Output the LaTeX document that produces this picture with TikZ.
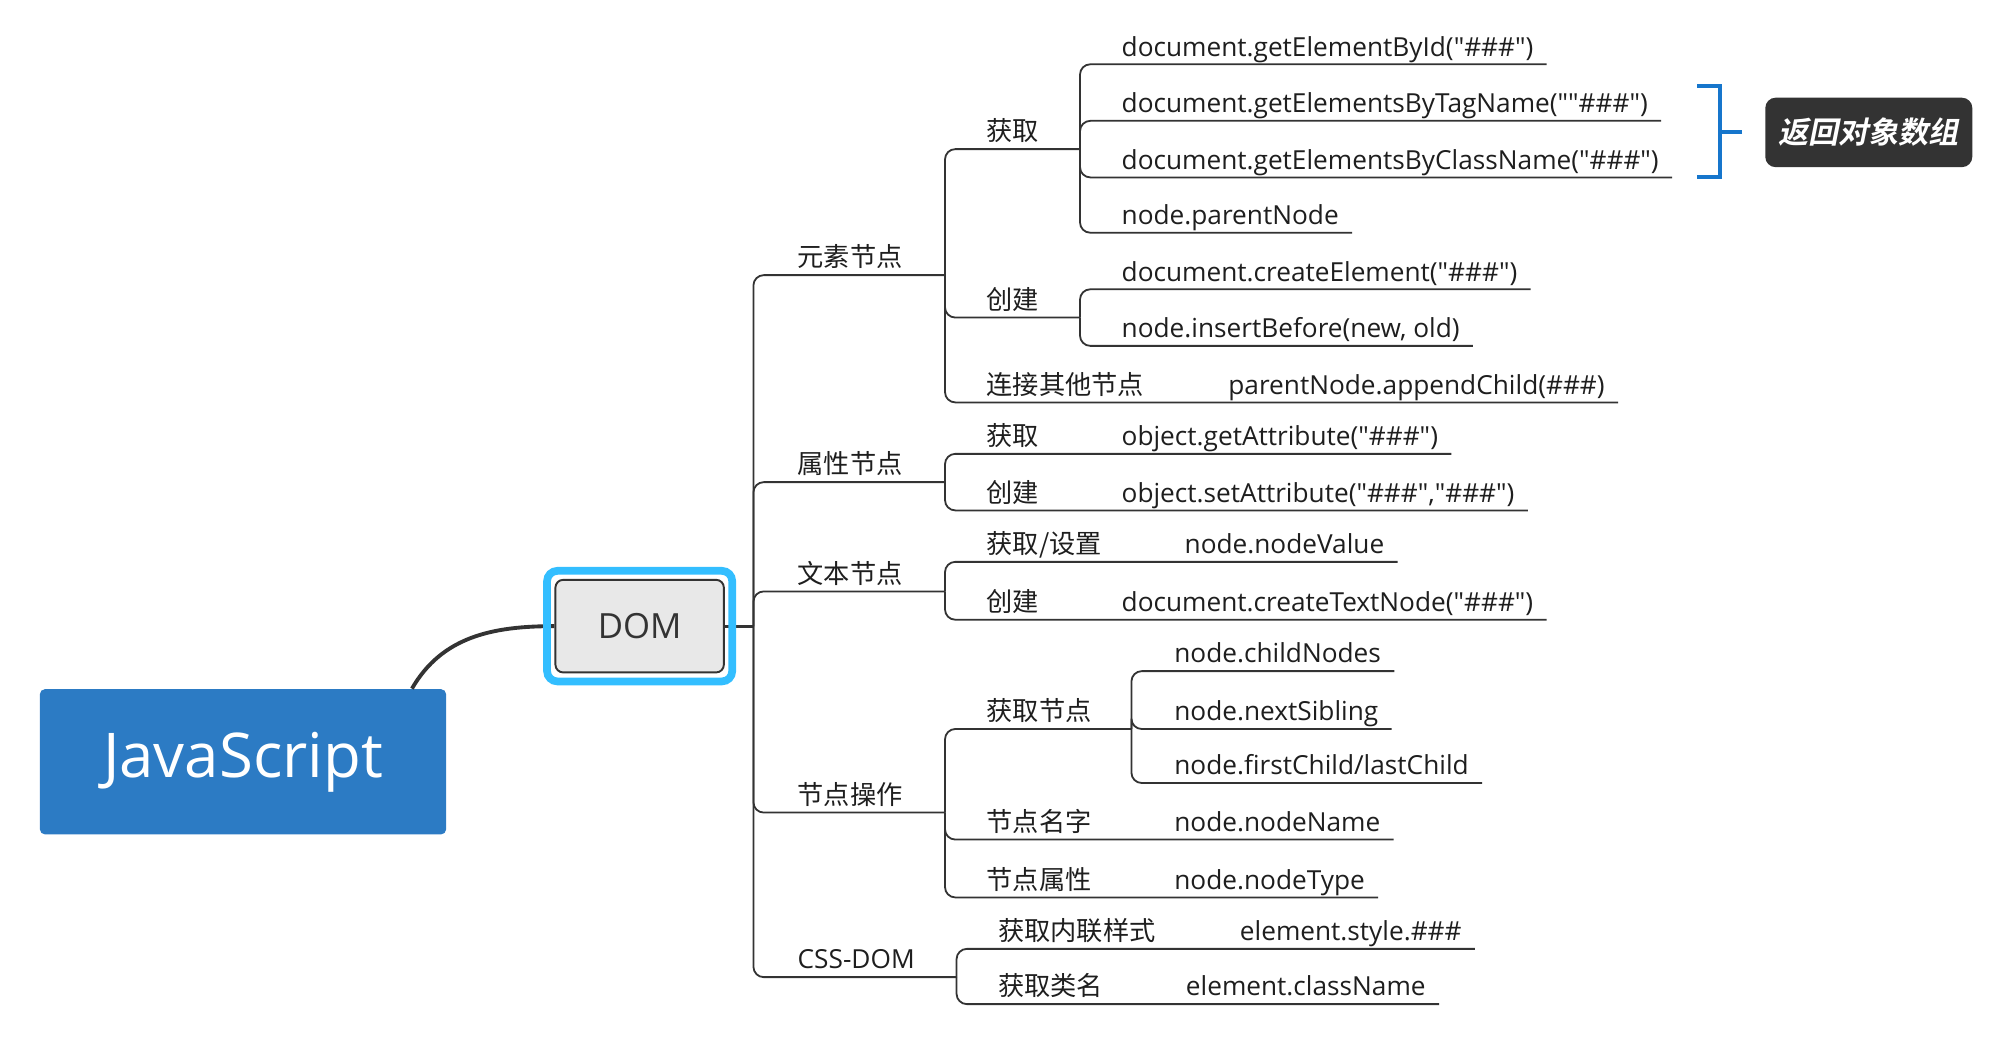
\documentclass[tikz,border=0pt]{standalone}
\usepackage{fontspec}
\setmainfont{Open Sans}[Ligatures=TeXOff]
\newfontfamily\cjk{Noto Sans CJK SC}
\newfontfamily\cjkbold{Noto Sans CJK SC Bold}[FakeSlant=0.2]
\usepackage{tikz}

\definecolor{jsblue}{RGB}{44,123,196}
\definecolor{selcyan}{RGB}{51,190,255}
\definecolor{domgray}{RGB}{232,232,232}
\definecolor{linkgray}{RGB}{51,51,51}
\definecolor{sumblue}{RGB}{22,118,204}
\definecolor{sumdark}{RGB}{51,51,51}
\definecolor{txt}{RGB}{30,30,30}

\tikzset{
  topic/.style={anchor=south west,inner xsep=5pt,inner ysep=3pt,text depth=0pt,text=txt,font=\fontsize{10.2}{12}\selectfont},
  cntopic/.style={topic,font=\fontsize{10.2}{12}\selectfont\cjk},
  link/.style={draw=linkgray,line width=0.7pt,rounded corners=4pt},
  jsbox/.style={fill=jsblue,rounded corners=2pt,minimum width=158pt,minimum height=56.5pt,inner sep=0pt,text=white,font=\fontsize{24}{28}\selectfont},
  dombox/.style={fill=domgray,draw=linkgray,line width=0.75pt,rounded corners=3pt,minimum width=65.5pt,minimum height=36pt,inner sep=0pt,text=linkgray,font=\fontsize{13.5}{16}\selectfont},
  selframe/.style={draw=selcyan,line width=3pt,rounded corners=4pt,minimum width=72pt,minimum height=43pt,inner sep=0pt},
  sumbox/.style={fill=sumdark,rounded corners=4pt,minimum width=80.5pt,minimum height=27pt,inner sep=0pt,text=white,font=\fontsize{11.7}{14}\selectfont\cjkbold},
  bracket/.style={draw=sumblue,line width=1.5pt},
}

\begin{document}
\begin{tikzpicture}[x=0.5pt,y=0.5pt,yscale=-1,xscale=1]
\useasboundingbox (0,0) rectangle (1568,806);

% central topics
\node[jsbox] (js) at (189,592.5) {JavaScript};
\node[dombox] (dom) at (497.5,487) {DOM};

% forks
\coordinate (f0) at (586,487);
\coordinate (f1) at (735,214);
\coordinate (f2) at (735,375);
\coordinate (f3) at (735,460);
\coordinate (f4) at (735,632);
\coordinate (f5) at (744,760);
\coordinate (g1) at (840,116);
\coordinate (g2) at (840,247);
\coordinate (g3) at (880,567);

% main branches
\node[cntopic] (elem) at (610,214) {元素节点};
\node[cntopic] (attr) at (610,375) {属性节点};
\node[cntopic] (txtn) at (610,460) {文本节点};
\node[cntopic] (nodeop) at (610,632) {节点操作};
\node[topic] (cssdom) at (610,760) {CSS-DOM};

% sub branches
\node[cntopic] (elemget) at (757,116) {获取};
\node[cntopic] (elemnew) at (757,247) {创建};
\node[cntopic] (elemlink) at (757,313) {连接其他节点};
\node[cntopic] (attrget) at (757,353) {获取};
\node[cntopic] (attrset) at (757,397) {创建};
\node[cntopic] (txtget) at (757,437) {获取/设置};
\node[cntopic] (txtnew) at (757,482) {创建};
\node[cntopic] (opget) at (757,567) {获取节点};
\node[cntopic] (opname) at (757,653) {节点名字};
\node[cntopic] (optype) at (757,698) {节点属性};
\node[cntopic] (cssinline) at (766,738) {获取内联样式};
\node[cntopic] (csscls) at (766,781) {获取类名};

% leaves
\node[topic] (byid) at (862,50) {document.getElementById("\#\#\#")};
\node[topic] (bytag) at (862,94) {document.getElementsByTagName(""\#\#\#")};
\node[topic] (bycls) at (862,138) {document.getElementsByClassName("\#\#\#")};
\node[topic] (parentnode) at (862,181) {node.parentNode};
\node[topic] (crel) at (862,225) {document.createElement("\#\#\#")};
\node[topic] (insb) at (862,269) {node.insertBefore(new, old)};
\node[topic] (appc) at (945,313) {parentNode.appendChild(\#\#\#)};
\node[topic] (getattr) at (862,353) {object.getAttribute("\#\#\#")};
\node[topic] (setattr) at (862,397) {object.setAttribute("\#\#\#","\#\#\#")};
\node[topic] (nodeval) at (911,437) {node.nodeValue};
\node[topic] (crtext) at (862,482) {document.createTextNode("\#\#\#")};
\node[topic] (childn) at (903,522) {node.childNodes};
\node[topic] (nextsib) at (903,567) {node.nextSibling};
\node[topic] (firstlast) at (903,609) {node.firstChild/lastChild};
\node[topic] (nodename) at (903,653) {node.nodeName};
\node[topic] (nodetype) at (903,698) {node.nodeType};
\node[topic] (stylev) at (954,738) {element.style.\#\#\#};
\node[topic] (classv) at (912,781) {element.className};

% summary
\node[sumbox] (summary) at (1453.5,103) {返回对象数组};
\coordinate (sumtop) at (1320,67);
\coordinate (sumbot) at (1320,138);
\coordinate (sumtip) at (1355,102.5);
\draw[bracket] (sumtop) -- ++(18,0) |- (sumbot);
\draw[bracket] (sumtip) -- ++(-17,0);

% connectors
\draw[link,line width=1.5pt] ([xshift=-13.5pt]js.north east) to[out=-60,in=180] (dom.west);
\draw[link,line width=1.2pt] (dom.east) -- (f0);

\draw[link] (f0) |- (elem.south west) -- (elem.south east) -- (f1);
\draw[link] (f0) |- (attr.south west) -- (attr.south east) -- (f2);
\draw[link] (f0) |- (txtn.south west) -- (txtn.south east) -- (f3);
\draw[link] (f0) |- (nodeop.south west) -- (nodeop.south east) -- (f4);
\draw[link] (f0) |- (cssdom.south west) -- (cssdom.south east) -- (f5);

\draw[link] (f1) |- (elemget.south west) -- (elemget.south east) -- (g1);
\draw[link] (g1) |- (byid.south west) -- (byid.south east);
\draw[link] (g1) |- (bytag.south west) -- (bytag.south east);
\draw[link] (g1) |- (bycls.south west) -- (bycls.south east);
\draw[link] (g1) |- (parentnode.south west) -- (parentnode.south east);
\draw[link] (f1) |- (elemnew.south west) -- (elemnew.south east) -- (g2);
\draw[link] (g2) |- (crel.south west) -- (crel.south east);
\draw[link] (g2) |- (insb.south west) -- (insb.south east);
\draw[link] (f1) |- (elemlink.south west) -- (elemlink.south east) -- (appc.south west) -- (appc.south east);

\draw[link] (f2) |- (attrget.south west) -- (attrget.south east) -- (getattr.south west) -- (getattr.south east);
\draw[link] (f2) |- (attrset.south west) -- (attrset.south east) -- (setattr.south west) -- (setattr.south east);

\draw[link] (f3) |- (txtget.south west) -- (txtget.south east) -- (nodeval.south west) -- (nodeval.south east);
\draw[link] (f3) |- (txtnew.south west) -- (txtnew.south east) -- (crtext.south west) -- (crtext.south east);

\draw[link] (f4) |- (opget.south west) -- (opget.south east) -- (g3);
\draw[link] (g3) |- (childn.south west) -- (childn.south east);
\draw[link] (g3) |- (nextsib.south west) -- (nextsib.south east);
\draw[link] (g3) |- (firstlast.south west) -- (firstlast.south east);
\draw[link] (f4) |- (opname.south west) -- (opname.south east) -- (nodename.south west) -- (nodename.south east);
\draw[link] (f4) |- (optype.south west) -- (optype.south east) -- (nodetype.south west) -- (nodetype.south east);

\draw[link] (f5) |- (cssinline.south west) -- (cssinline.south east) -- (stylev.south west) -- (stylev.south east);
\draw[link] (f5) |- (csscls.south west) -- (csscls.south east) -- (classv.south west) -- (classv.south east);

% selection frame
\node[selframe] (domsel) at (dom) {};
\end{tikzpicture}
\end{document}
